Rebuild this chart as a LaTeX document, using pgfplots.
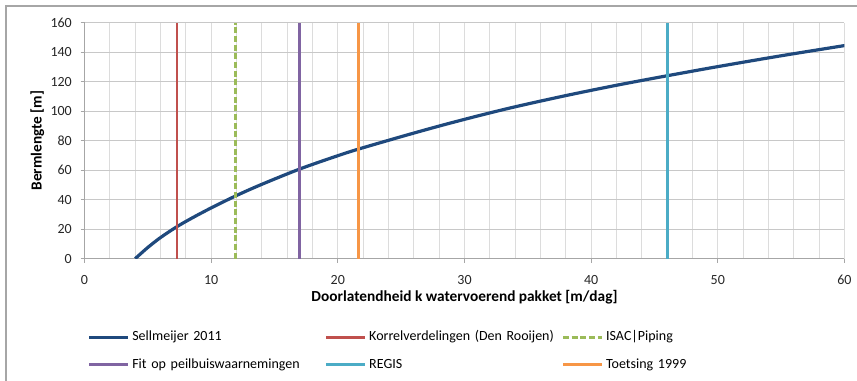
\documentclass[border=0pt]{standalone}
\usepackage{pgfplots}
\pgfplotsset{compat=1.18}
\usepackage{fontspec}
\setmainfont{Carlito}
\definecolor{cNavy}{HTML}{1F497D}
\definecolor{cRed}{HTML}{C0504D}
\definecolor{cGreen}{HTML}{9BBB59}
\definecolor{cPurple}{HTML}{8064A2}
\definecolor{cAqua}{HTML}{4BACC6}
\definecolor{cOrange}{HTML}{F79646}
\definecolor{cGridH}{HTML}{C8C8C8}
\definecolor{cGridV}{HTML}{DCDCDC}
\definecolor{cFrame}{HTML}{A6A6A6}
\begin{document}
\begin{tikzpicture}
\path[use as bounding box] (-63.4pt,-91.7pt) rectangle (579.4pt,194pt);
\draw[cFrame, line width=1pt] (-58.9pt,-92pt) -- (-58.9pt,189.5pt) -- (580pt,189.5pt);
\begin{axis}[
  at={(0,0)}, anchor=south west,
  scale only axis, width=570pt, height=177pt,
  xmin=0, xmax=60, ymin=0, ymax=160,
  xtick={0,10,...,60}, ytick={0,20,...,160},
  minor x tick num=4,
  xmajorgrids, xminorgrids, ymajorgrids,
  x grid style={cGridV, line width=0.8pt},
  minor x grid style={cGridV, line width=0.8pt},
  y grid style={cGridH, line width=0.8pt},
  axis x line*=bottom, axis y line*=left,
  axis line style={-, cFrame, line width=0.8pt},
  tick align=outside, major tick length=3pt, minor tick length=0pt,
  tick style={cFrame, line width=0.8pt},
  /pgf/number format/assume math mode=true,
  ticklabel style={font=\fontsize{10.5}{12}\selectfont, text=black!85},
  xticklabel style={yshift=-6pt},
  yticklabel style={xshift=-3pt},
  xlabel={Doorlatendheid k watervoerend pakket [m/dag]},
  ylabel={Bermlengte [m]},
  label style={font=\bfseries\fontsize{11.5}{14}\selectfont},
  xlabel style={at={(axis description cs:0.5,-0.162)}, anchor=center},
  ylabel style={at={(axis description cs:-0.062,0.5)}, anchor=center},
  legend columns=3,
  legend image code/.code={\draw[#1] (0pt,0pt) -- (29pt,0pt);},
  legend style={
    at={(axis description cs:0.0035,-0.305)}, anchor=north west,
    draw=none, fill=none, inner sep=0pt,
    font=\fontsize{10.5}{12}\selectfont,
    nodes={inner xsep=2.25pt, inner ysep=0pt, text height=7.5pt, text depth=2.5pt, text width=142pt, align=left, anchor=west},
    row sep=10.5pt, column sep=0pt,
  },
]
\addplot[cNavy, line width=2.4pt, smooth] coordinates {
(4,0) (5,7.6) (6,14.3) (7.3,21.7) (8.5,27.6) (10,34.4) (12,42.8) (14,50.4)
(17,60.8) (20,69.8) (21.6,74.2) (25,82.7) (28,89.9) (31,96.65) (34,102.95)
(38,110.55) (42,117.55) (46,124.0) (50,130.2) (55,137.55) (60,144.45)};
\addlegendentry{Sellmeijer 2011}
\addplot[cRed, line width=2.2pt] coordinates {(7.3,0) (7.3,160)};
\addlegendentry{Korrelverdelingen (Den Rooijen)}
\addplot[cGreen, line width=2.2pt, dash pattern=on 4.5pt off 2pt] coordinates {(11.9,0) (11.9,160)};
\addlegendentry{ISAC|Piping}
\addplot[cPurple, line width=2.2pt] coordinates {(17,0) (17,160)};
\addlegendentry{Fit op peilbuiswaarnemingen}
\addplot[cAqua, line width=2.2pt] coordinates {(46,0) (46,160)};
\addlegendentry{REGIS}
\addplot[cOrange, line width=2.2pt] coordinates {(21.6,0) (21.6,160)};
\addlegendentry{Toetsing 1999}
\end{axis}
\end{tikzpicture}
\end{document}
